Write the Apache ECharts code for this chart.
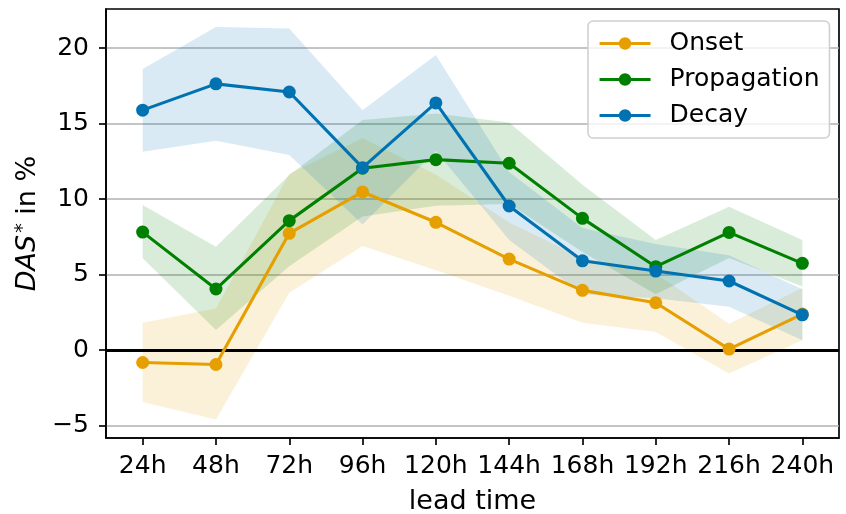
<!DOCTYPE html>
<html>
<head>
<meta charset="utf-8">
<script src="https://cdn.jsdelivr.net/npm/echarts@6/dist/echarts.min.js"></script>
<style>
  html, body { margin: 0; padding: 0; background: #fff; }
  #chart { width: 846px; height: 514px; }
</style>
</head>
<body>
<div id="chart"></div>
<script>
// Lead times on the x axis
const categories = ['24h', '48h', '72h', '96h', '120h', '144h', '168h', '192h', '216h', '240h'];

// DAS* (%) per phase, with lower / upper bounds of the shaded range
const onset       = [-0.82, -0.95, 7.74, 10.48, 8.47, 6.03, 3.96, 3.14, 0.07, 2.39];
const onsetLow    = [-3.43, -4.60, 3.80, 6.90, 5.30, 3.60, 1.81, 1.21, -1.55, 0.66];
const onsetHigh   = [1.81, 2.76, 11.68, 14.05, 11.64, 8.45, 6.10, 5.07, 1.75, 4.12];

const propagation     = [7.82, 4.05, 8.58, 12.05, 12.62, 12.38, 8.73, 5.53, 7.80, 5.75];
const propagationLow  = [6.08, 1.33, 5.56, 8.85, 9.57, 9.68, 6.50, 3.70, 6.10, 4.22];
const propagationHigh = [9.62, 6.85, 11.60, 15.25, 15.67, 15.08, 10.95, 7.30, 9.50, 7.30];

const decay     = [15.90, 17.64, 17.10, 12.09, 16.38, 9.55, 5.92, 5.24, 4.58, 2.34];
const decayLow  = [13.15, 13.88, 12.93, 8.33, 13.20, 7.30, 3.70, 3.44, 2.87, 0.66];
const decayHigh = [18.63, 21.40, 21.30, 15.90, 19.56, 11.80, 8.10, 7.04, 6.29, 4.04];

// Y axis tick values
const yTicks = [-5, 0, 5, 10, 15, 20];

const FONT = 'DejaVu Sans';
const phases = [
  { name: 'Onset',       color: '#E69F00', mean: onset,       low: onsetLow,       high: onsetHigh },
  { name: 'Propagation', color: '#008000', mean: propagation, low: propagationLow, high: propagationHigh },
  { name: 'Decay',       color: '#0072B2', mean: decay,       low: decayLow,       high: decayHigh }
];

const series = [];

// Shaded ranges: an invisible base at the lower bound, with the band stacked on top
phases.forEach(function (p) {
  const key = 'band-' + p.name;
  series.push({
    name: key + '-base', type: 'line', stack: key, stackStrategy: 'all',
    data: p.low, symbol: 'none', silent: true, z: 1,
    lineStyle: { opacity: 0 }
  });
  series.push({
    name: key, type: 'line', stack: key, stackStrategy: 'all',
    data: p.high.map(function (h, i) { return h - p.low[i]; }),
    symbol: 'none', silent: true, z: 1,
    lineStyle: { opacity: 0 },
    areaStyle: { color: p.color, opacity: 0.15 }
  });
});

// Mean lines with markers
phases.forEach(function (p, idx) {
  const s = {
    name: p.name, type: 'line', data: p.mean, z: 3 + idx,
    symbol: 'circle', symbolSize: 13,
    color: p.color,
    lineStyle: { color: p.color, width: 3.1 },
    itemStyle: { color: p.color },
    emphasis: { disabled: true }
  };
  if (idx === 0) {
    // zero reference line
    s.markLine = {
      silent: true, symbol: 'none', label: { show: false },
      lineStyle: { color: '#000', width: 3.2, type: 'solid' },
      emphasis: { disabled: true },
      data: [{ yAxis: 0 }],
      z: 2
    };
  }
  series.push(s);
});

const chart = echarts.init(document.getElementById('chart'), null, { renderer: 'canvas' });
chart.setOption({
  animation: false,
  backgroundColor: '#fff',
  textStyle: { fontFamily: FONT },
  grid: {
    left: 106, right: 7, top: 9, bottom: 76,
    outerBoundsMode: 'none', containLabel: false,
    show: true, borderColor: '#000', borderWidth: 1.67, backgroundColor: 'transparent'
  },
  legend: {
    data: phases.map(function (p) { return p.name; }),
    orient: 'vertical',
    left: 588, top: 21,
    padding: [10, 10, 10, 10],
    itemWidth: 51, itemHeight: 15.6, itemGap: 11,
    backgroundColor: 'rgba(255,255,255,0.8)',
    borderColor: '#d0d0d0', borderWidth: 1.6, borderRadius: 5,
    selectedMode: false,
    lineStyle: { width: 3.1 },
    textStyle: { fontFamily: FONT, fontSize: 25, color: '#000', lineHeight: 25, padding: [0, 0, 0, 14] }
  },
  xAxis: {
    type: 'category', data: categories, boundaryGap: true,
    axisLine: { show: true, onZero: false, lineStyle: { color: '#000', width: 1.67 } },
    axisTick: { show: true, alignWithLabel: true, length: 7, lineStyle: { color: '#000', width: 1.67 } },
    axisLabel: { fontFamily: FONT, fontSize: 25, color: '#000', margin: 16, interval: 0 },
    splitLine: { show: false },
    name: 'lead time', nameLocation: 'middle', nameGap: 50,
    nameTextStyle: { fontFamily: FONT, fontSize: 27, color: '#000' }
  },
  yAxis: {
    type: 'value', min: -5.82, max: 22.6,
    axisLine: { show: true, onZero: false, lineStyle: { color: '#000', width: 1.67 } },
    axisTick: { show: true, length: 7, customValues: yTicks, lineStyle: { color: '#000', width: 1.67 } },
    axisLabel: {
      customValues: yTicks, fontFamily: FONT, fontSize: 25, color: '#000', margin: 17,
      formatter: function (v) { return String(v).replace('-', '\u2212'); }
    },
    splitLine: { show: true, lineStyle: { color: '#b0b0b0', width: 1.67 } },
    name: '{it|DAS}{sup|*}{n| in %}',
    nameLocation: 'middle', nameRotate: 90, nameGap: 64,
    nameTextStyle: {
      fontFamily: FONT, fontSize: 27, color: '#000',
      rich: {
        it: { fontFamily: FONT, fontSize: 27, fontStyle: 'italic', color: '#000' },
        sup: { fontFamily: FONT, fontSize: 19, color: '#000', verticalAlign: 'top', padding: [0, 0, 9, 2] },
        n: { fontFamily: FONT, fontSize: 27, color: '#000' }
      }
    }
  },
  series: series
});
</script>
</body>
</html>
